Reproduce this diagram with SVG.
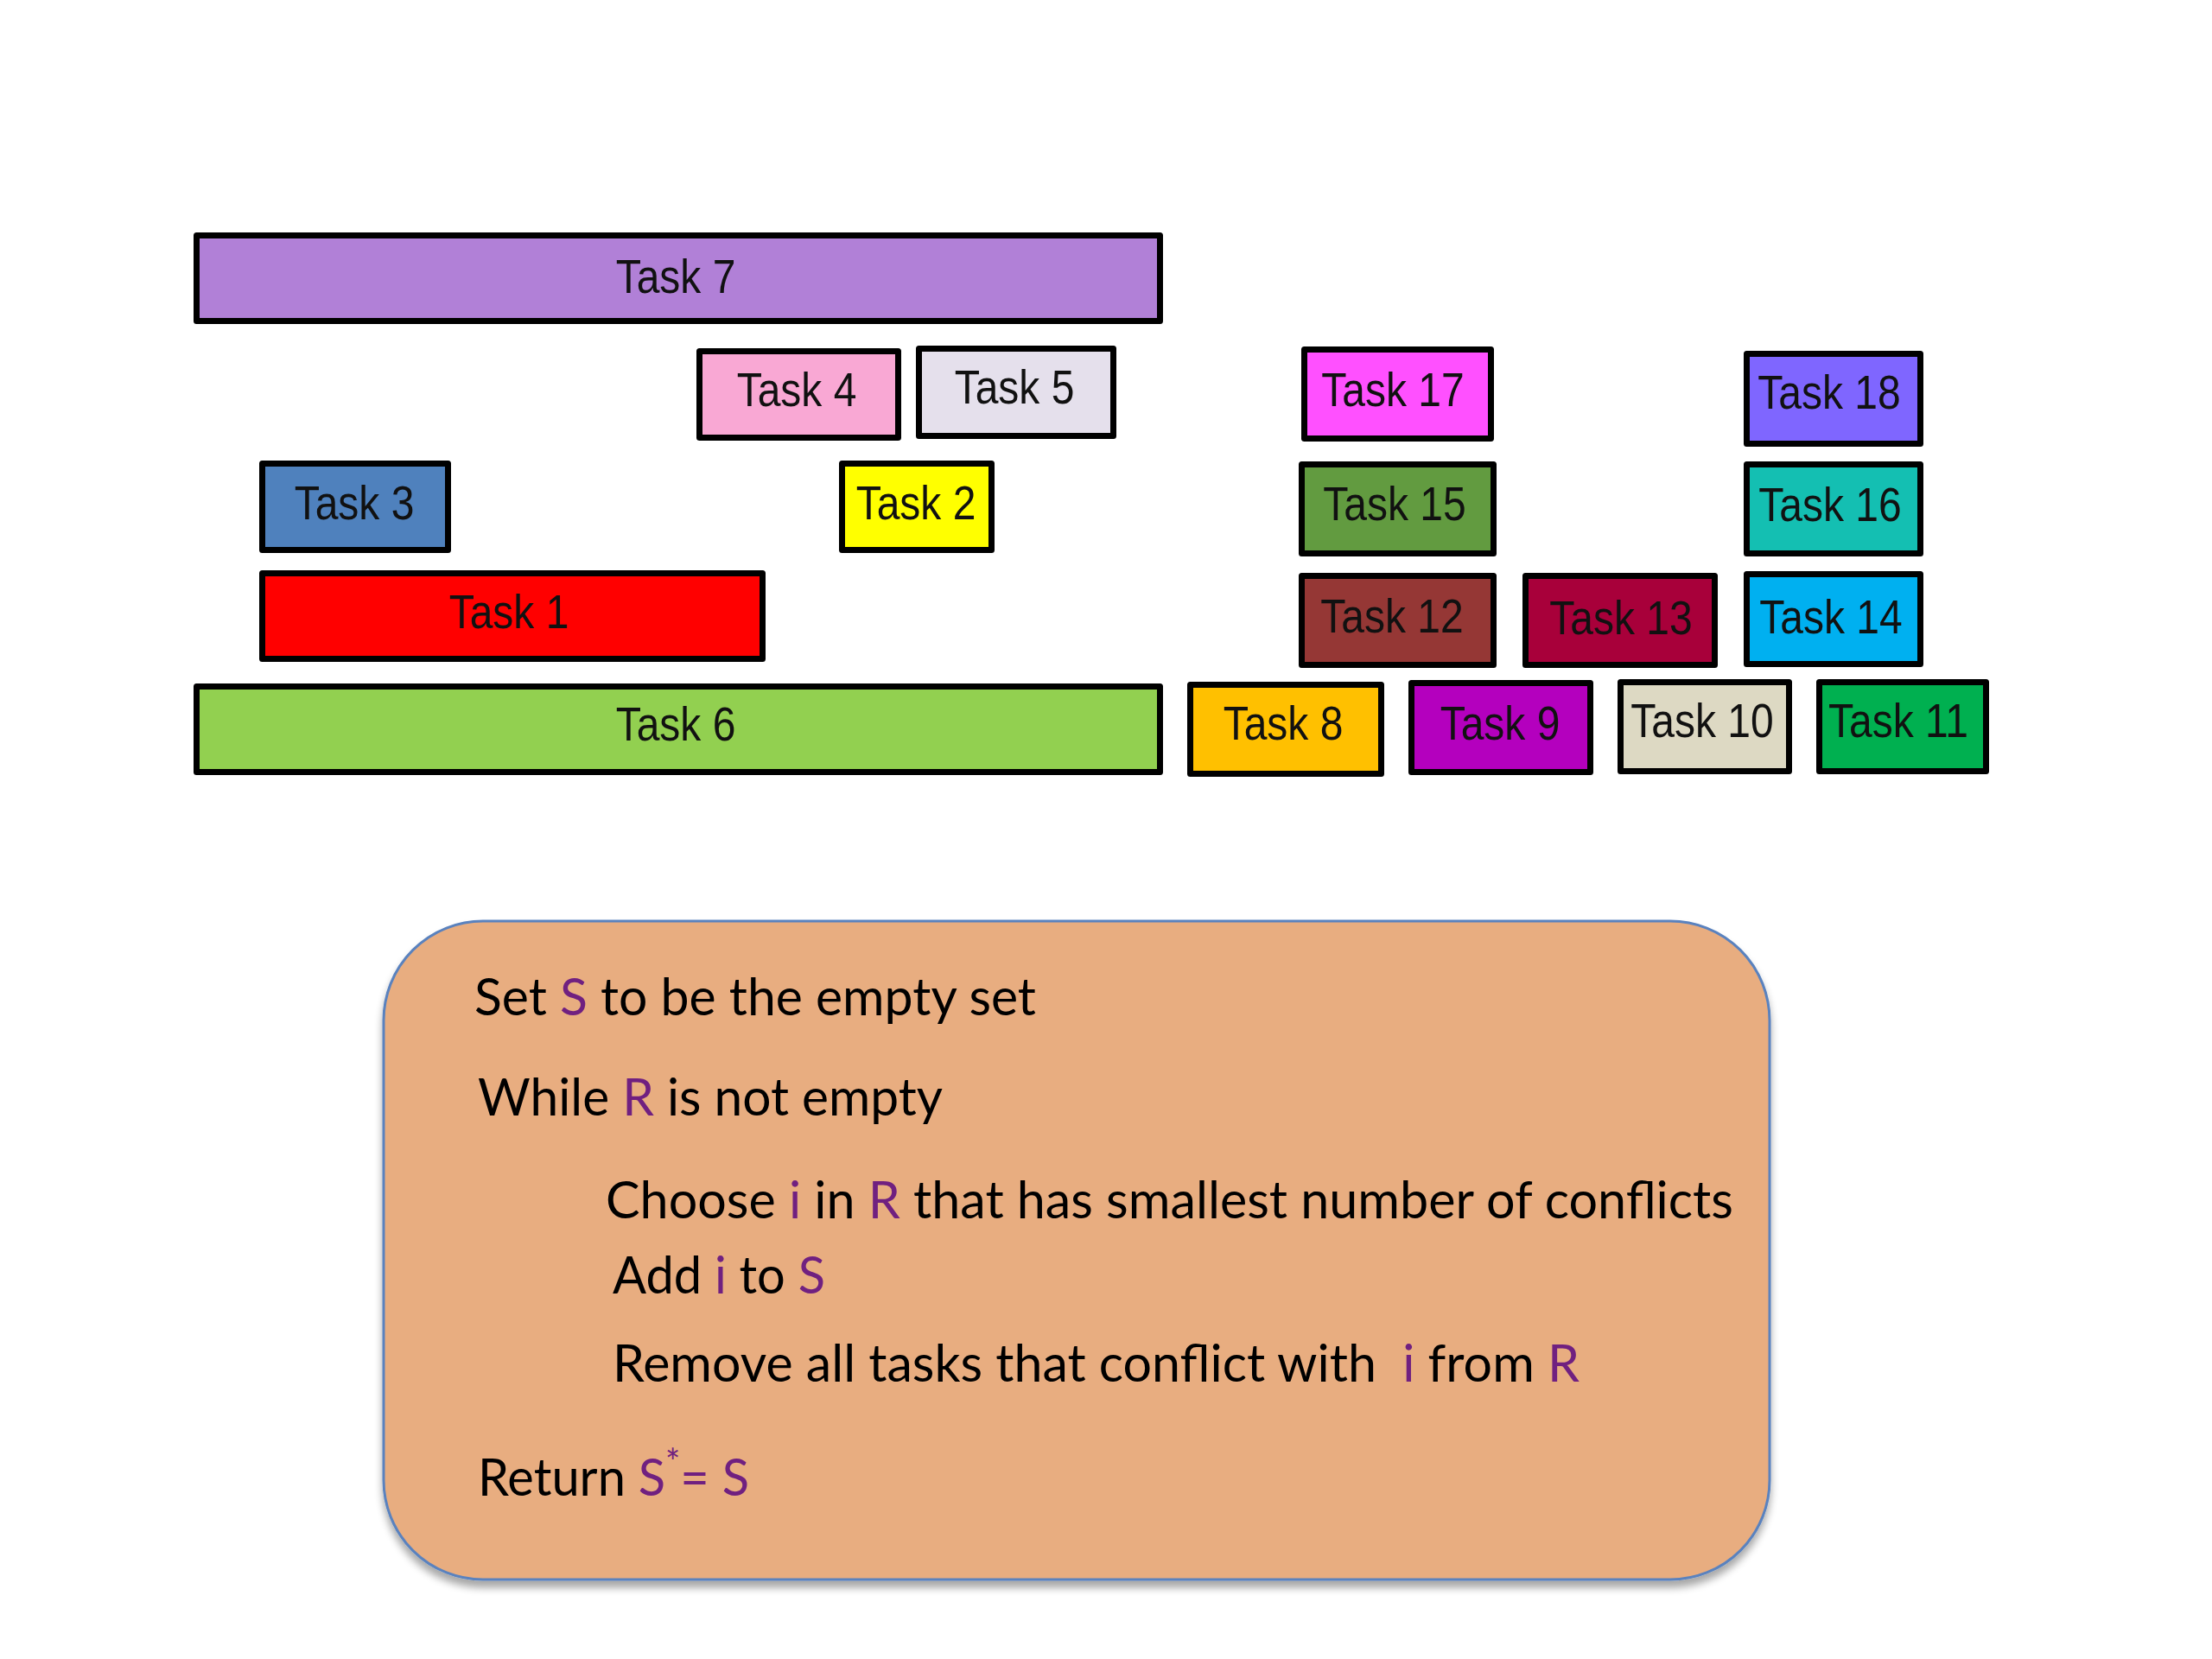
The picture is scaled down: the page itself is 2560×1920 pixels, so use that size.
<svg xmlns="http://www.w3.org/2000/svg" width="2560" height="1920" viewBox="0 0 2560 1920">
<style>
.t rect{stroke:#000;stroke-width:7;stroke-linejoin:round}
.t text{font-family:"Liberation Sans",Arial,sans-serif;font-size:48px;fill:#111;text-anchor:middle}
.alg{font-family:Lato,"Open Sans",sans-serif;font-size:60px;fill:#000;white-space:pre}
.p{fill:#702080}
</style>
<defs>
<filter id="sh" x="-5%" y="-5%" width="110%" height="115%">
<feGaussianBlur in="SourceAlpha" stdDeviation="5"/>
<feOffset dx="0" dy="8" result="b"/>
<feComponentTransfer><feFuncA type="linear" slope="0.35"/></feComponentTransfer>
<feMerge><feMergeNode/><feMergeNode in="SourceGraphic"/></feMerge>
</filter>
</defs>
<rect width="2560" height="1920" fill="#fff"/>
<g class="t">
<g id="task7"><rect x="227.5" y="272.5" width="1115" height="99" fill="#B180D7"/><text transform="translate(782 339) scale(1 1.16)">Task 7</text></g>
<g id="task4"><rect x="809.5" y="406.5" width="230" height="100" fill="#F9A8D4"/><text transform="translate(922 470) scale(1 1.16)">Task 4</text></g>
<g id="task5"><rect x="1063.5" y="403.5" width="225" height="101" fill="#E5E0EC"/><text transform="translate(1174 467) scale(1 1.16)">Task 5</text></g>
<g id="task3"><rect x="303.5" y="536.5" width="215" height="100" fill="#4F81BD"/><text transform="translate(410 601) scale(1 1.16)">Task 3</text></g>
<g id="task2"><rect x="974.5" y="536.5" width="173" height="100" fill="#FFFF00"/><text transform="translate(1060 601) scale(1 1.16)">Task 2</text></g>
<g id="task1"><rect x="303.5" y="663.5" width="579" height="99" fill="#FF0000"/><text transform="translate(589 727) scale(1 1.16)">Task 1</text></g>
<g id="task6"><rect x="227.5" y="794.5" width="1115" height="99" fill="#92D050"/><text transform="translate(782 857) scale(1 1.16)">Task 6</text></g>
<g id="task17"><rect x="1509.5" y="404.5" width="216" height="103" fill="#FF50FF"/><text transform="translate(1612 470) scale(1 1.16)">Task 17</text></g>
<g id="task18"><rect x="2021.5" y="409.5" width="201" height="104" fill="#7F66FF"/><text transform="translate(2117 473) scale(1 1.16)">Task 18</text></g>
<g id="task15"><rect x="1506.5" y="537.5" width="222" height="103" fill="#629B40"/><text transform="translate(1614 602) scale(1 1.16)">Task 15</text></g>
<g id="task16"><rect x="2021.5" y="537.5" width="201" height="103" fill="#14BFB2"/><text transform="translate(2118 603) scale(1 1.16)">Task 16</text></g>
<g id="task12"><rect x="1506.5" y="666.5" width="222" height="103" fill="#953735"/><text transform="translate(1611 732) scale(1 1.16)">Task 12</text></g>
<g id="task13"><rect x="1765.5" y="666.5" width="219" height="103" fill="#A8003A"/><text transform="translate(1876 734) scale(1 1.16)">Task 13</text></g>
<g id="task14"><rect x="2021.5" y="664.5" width="201" height="104" fill="#00B0F0"/><text transform="translate(2119 733) scale(1 1.16)">Task 14</text></g>
<g id="task8"><rect x="1377.5" y="792.5" width="221" height="103" fill="#FFC000"/><text transform="translate(1485 856) scale(1 1.16)">Task 8</text></g>
<g id="task9"><rect x="1633.5" y="790.5" width="207" height="103" fill="#B400BE"/><text transform="translate(1736 856) scale(1 1.16)">Task 9</text></g>
<g id="task10"><rect x="1875.5" y="789.5" width="195" height="103" fill="#DDD9C3"/><text transform="translate(1970 853) scale(1 1.16)">Task 10</text></g>
<g id="task11"><rect x="2105.5" y="789.5" width="193" height="103" fill="#00B050"/><text transform="translate(2197 853) scale(1 1.16)">Task 11</text></g>
</g>
<g id="connectors"></g>
<g id="algorithm">
<rect x="444" y="1066" width="1604" height="762" rx="115" ry="115" fill="#E8AD80" stroke="#5A82BE" stroke-width="3" filter="url(#sh)"/>
<text class="alg" x="549" y="1175" textLength="650" lengthAdjust="spacingAndGlyphs">Set <tspan class="p">S</tspan> to be the empty set</text>
<text class="alg" x="553" y="1291" textLength="538" lengthAdjust="spacingAndGlyphs">While <tspan class="p">R</tspan> is not empty</text>
<text class="alg" x="701" y="1410" textLength="1305" lengthAdjust="spacingAndGlyphs">Choose <tspan class="p">i</tspan> in <tspan class="p">R</tspan> that has smallest number of conflicts</text>
<text class="alg" x="709" y="1497" textLength="246" lengthAdjust="spacingAndGlyphs">Add <tspan class="p">i</tspan> to <tspan class="p">S</tspan></text>
<text class="alg" x="709" y="1599" textLength="1119" lengthAdjust="spacingAndGlyphs">Remove all tasks that conflict with  <tspan class="p">i</tspan> from <tspan class="p">R</tspan></text>
<text class="alg" x="553" y="1731" textLength="314" lengthAdjust="spacingAndGlyphs">Return <tspan class="p">S</tspan><tspan class="p" font-size="42" dy="-24">*</tspan><tspan class="p" dy="24">= S</tspan></text>
</g>
</svg>
